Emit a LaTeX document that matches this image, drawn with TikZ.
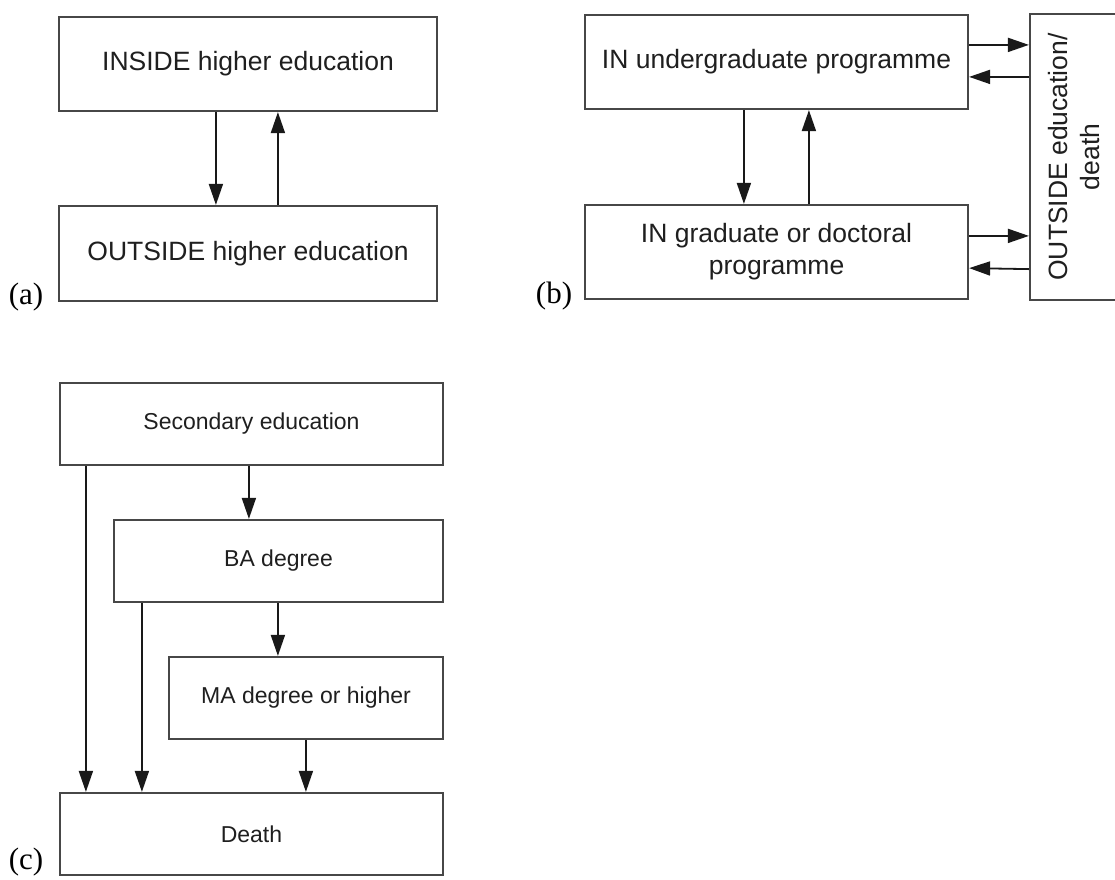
\documentclass[tikz,border=0pt]{standalone}
\usepackage{fontspec}
\setmainfont{Liberation Serif}
\newfontfamily\boxfont{Liberation Sans}
\usetikzlibrary{arrows.meta}
\tikzset{
  box/.style={draw=black!72, line width=2.2pt, fill=white, inner sep=0pt, align=center, text=black!88,
     font=\boxfont\fontsize{26.5}{32}\selectfont},
  cbox/.style={box, font=\boxfont\fontsize{23}{28}\selectfont},
  arr/.style={draw=black!90, line width=1.8pt, -{Triangle[length=21pt,width=14pt]}},
  lab/.style={font=\fontsize{31}{34}\selectfont, inner sep=0pt}
}
\begin{document}
\begin{tikzpicture}[x=1pt,y=-1pt]
\useasboundingbox (0,0) rectangle (1115,879);
% (a)
\node[box, minimum width=378pt, minimum height=94pt] (ins) at (248,64) {INSIDE higher education};
\node[box, minimum width=378pt, minimum height=95pt] (outs) at (248,253.5) {OUTSIDE higher education};
\draw[arr] ([xshift=158pt]ins.south west) -- ([xshift=158pt]outs.north west);
\draw[arr] ([xshift=220pt]outs.north west) -- ([xshift=220pt]ins.south west);
\node[lab] (la) at (26,297) {(a)};
% (b)
\node[box, minimum width=383pt, minimum height=94pt] (ug) at (776.5,62) {IN undergraduate programme};
\node[box, minimum width=383pt, minimum height=94pt] (gr) at (776.5,252) {IN graduate or doctoral\\programme};
\node[box, minimum width=88pt, minimum height=286pt] (out) at (1074,157) {};
\node[font=\boxfont\fontsize{26.5}{32}\selectfont, text=black!88, align=center, rotate=90] (outt) at (out.center) {OUTSIDE education/\\death};
\draw[arr] ([xshift=160pt]ug.south west) -- ([xshift=160pt]gr.north west);
\draw[arr] ([xshift=225pt]gr.north west) -- ([xshift=225pt]ug.south west);
\draw[arr] ([yshift=-32pt]out.north west -| ug.east) -- ([yshift=-32pt]out.north west);
\draw[arr] ([yshift=-64pt]out.north west) -- ([yshift=-64pt]out.north west -| ug.east);
\draw[arr] ([yshift=-32pt]gr.north east) -- ([yshift=-223pt]out.north west);
\draw[arr] ([yshift=32pt]out.south west) -- ([yshift=32pt]gr.south east);
\node[lab] (lb) at (554,296) {(b)};
% (c)
\node[cbox, minimum width=383pt, minimum height=82pt] (sec) at (251.5,424) {Secondary education};
\node[cbox, minimum width=329pt, minimum height=82pt] (ba) at (278.5,561) {BA degree};
\node[cbox, minimum width=274pt, minimum height=82pt] (ma) at (306,698) {MA degree or higher};
\node[cbox, minimum width=383pt, minimum height=82pt] (death) at (251.5,834) {Death};
\draw[arr] ([xshift=190pt]sec.south west) -- ([xshift=136pt]ba.north west);
\draw[arr] ([xshift=165pt]ba.south west) -- ([xshift=110pt]ma.north west);
\draw[arr] ([xshift=27pt]sec.south west) -- ([xshift=27pt]death.north west);
\draw[arr] ([xshift=29pt]ba.south west) -- ([xshift=83pt]death.north west);
\draw[arr] ([xshift=138pt]ma.south west) -- ([xshift=247pt]death.north west);
\node[lab] (lc) at (26,862) {(c)};
\end{tikzpicture}
\end{document}
